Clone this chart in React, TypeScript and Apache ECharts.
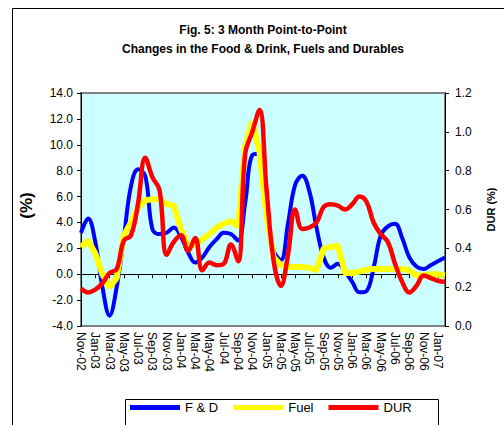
import React, { useEffect, useRef } from "react";
import * as echarts from "echarts";

const categories = [
  "Nov-02","Dec-02","Jan-03","Feb-03","Mar-03","Apr-03","May-03","Jun-03","Jul-03","Aug-03","Sep-03","Oct-03",
  "Nov-03","Dec-03","Jan-04","Feb-04","Mar-04","Apr-04","May-04","Jun-04","Jul-04","Aug-04","Sep-04","Oct-04",
  "Nov-04","Dec-04","Jan-05","Feb-05","Mar-05","Apr-05","May-05","Jun-05","Jul-05","Aug-05","Sep-05","Oct-05",
  "Nov-05","Dec-05","Jan-06","Feb-06","Mar-06","Apr-06","May-06","Jun-06","Jul-06","Aug-06","Sep-06","Oct-06",
  "Nov-06","Dec-06","Jan-07","Feb-07",
];

const foodDrink = [
  3.2, 4.3, 2.5, -1.0, -3.2, -1.0, 2.8, 6.8, 8.1, 7.6, 3.5, 3.1,
  3.2, 3.6, 2.9, 1.7, 0.9, 1.3, 2.1, 2.7, 3.2, 3.1, 2.6, 5.5,
  9.2, 9.3, 5.0, 1.8, 1.1, 3.9, 6.9, 7.6, 6.4, 3.6, 1.3, 0.5,
  0.8, 0.2, -0.6, -1.4, -1.3, 0.5, 3.0, 3.7, 3.9, 2.8, 1.3, 0.6,
  0.4, 0.7, 1.0, 1.3,
];

const fuel = [
  2.1, 2.6, 1.6, 0.0, -1.0, -0.3, 3.0, 4.0, 5.2, 5.7, 5.8, 5.8,
  5.4, 5.3, 3.5, 2.2, 2.3, 2.7, 3.1, 3.6, 3.9, 4.1, 3.7, 9.9,
  11.8, 9.5, 4.5, 1.3, 0.7, 0.6, 0.55, 0.55, 0.5, 0.3, 2.0, 2.1,
  2.2, 0.1, 0.1, 0.2, 0.35, 0.4, 0.4, 0.4, 0.4, 0.4, 0.3, -0.1,
  -0.1, 0.0, 0.0, -0.1,
];

const durables = [
  0.193, 0.173, 0.187, 0.22, 0.273, 0.293, 0.44, 0.467, 0.633, 0.867, 0.767, 0.70,
  0.367, 0.433, 0.467, 0.387, 0.453, 0.287, 0.327, 0.313, 0.32, 0.42, 0.333, 0.887,
  1.0, 1.113, 0.70, 0.333, 0.207, 0.367, 0.60, 0.50, 0.507, 0.533, 0.613, 0.627,
  0.62, 0.60, 0.627, 0.667, 0.64, 0.533, 0.473, 0.433, 0.32, 0.227, 0.173, 0.207,
  0.26, 0.247, 0.233, 0.227,
];

const seriesNames = ["F & D", "Fuel", "DUR"];
const titleLines = [
  "Fig. 5: 3 Month Point-to-Point",
  "Changes in the Food & Drink, Fuels and Durables",
];

const FONT = "'Liberation Sans', Arial, sans-serif";

export default function App() {
  const ref = useRef<HTMLDivElement>(null);

  useEffect(() => {
    if (!ref.current) return;
    const chart = echarts.init(ref.current, undefined, { renderer: "svg" });
    chart.setOption({
      animation: false,
      backgroundColor: "#FFFFFF",
      textStyle: { fontFamily: FONT },
      title: {
        text: titleLines.join("\n"),
        left: 258,
        top: 16,
        textAlign: "center",
        textStyle: {
          fontFamily: FONT,
          fontSize: 12,
          fontWeight: "bold",
          color: "#000",
          lineHeight: 18.5,
        },
      },
      graphic: [
        {
          type: "rect",
          shape: { x: 12.5, y: 8.5, width: 600, height: 600 },
          style: { fill: "none", stroke: "#000", lineWidth: 1 },
          z: -1,
        },
        {
          type: "rect",
          shape: { x: 125.5, y: 399.5, width: 313, height: 40 },
          style: { fill: "#fff", stroke: "#000", lineWidth: 1 },
          z: 0,
        },
      ],
      legend: {
        data: seriesNames,
        left: 130,
        top: 401,
        padding: 0,
        icon: "rect",
        itemWidth: 50,
        itemHeight: 5,
        itemGap: 15,
        z: 10,
        textStyle: { fontFamily: FONT, fontSize: 13, color: "#000" },
      },
      grid: {
        left: 81,
        top: 93,
        width: 368,
        height: 233,
        show: true,
        backgroundColor: "#CCFFFF",
        borderColor: "#808080",
        borderWidth: 2,
      },
      xAxis: [
        {
          type: "category",
          data: categories,
          boundaryGap: false,
          position: "bottom",
          axisLine: { show: true, onZero: true, lineStyle: { color: "#000", width: 1 } },
          axisTick: { show: true, interval: 1, length: 4, lineStyle: { color: "#000" } },
          axisLabel: { show: false },
          splitLine: { show: false },
        },
        {
          type: "category",
          data: categories,
          boundaryGap: false,
          position: "bottom",
          offset: 0,
          axisLine: { show: false, onZero: false },
          axisTick: { show: false },
          axisLabel: {
            show: true,
            interval: 1,
            rotate: -90,
            margin: 6,
            fontFamily: FONT,
            fontSize: 12,
            color: "#000",
          },
          splitLine: { show: false },
        },
      ],
      yAxis: [
        {
          type: "value",
          min: -4,
          max: 14,
          interval: 2,
          name: "(%)",
          nameLocation: "middle",
          nameRotate: 90,
          nameGap: 46,
          nameTextStyle: { fontFamily: FONT, fontSize: 17, fontWeight: "bold", color: "#000", padding: [0, 0, 0, 8] },
          axisLine: { show: true, lineStyle: { color: "#000", width: 1 } },
          axisTick: { show: true, length: 4, lineStyle: { color: "#000" } },
          axisLabel: {
            fontFamily: FONT,
            fontSize: 12,
            color: "#000",
            margin: 8,
            formatter: (v: number) => v.toFixed(1),
          },
          splitLine: { show: false },
        },
        {
          type: "value",
          min: 0,
          max: 1.2,
          interval: 0.2,
          position: "right",
          name: "DUR (%)",
          nameLocation: "middle",
          nameRotate: 90,
          nameGap: 40,
          nameTextStyle: { fontFamily: FONT, fontSize: 11, fontWeight: "bold", color: "#000" },
          axisLine: { show: true, lineStyle: { color: "#000", width: 1 } },
          axisTick: { show: true, length: 4, lineStyle: { color: "#000" } },
          axisLabel: {
            fontFamily: FONT,
            fontSize: 12,
            color: "#000",
            margin: 10,
            formatter: (v: number) => v.toFixed(1),
          },
          splitLine: { show: false },
        },
      ],
      series: [
        {
          name: seriesNames[0],
          type: "line",
          data: foodDrink,
          xAxisIndex: 0,
          yAxisIndex: 0,
          smooth: 0.4,
          showSymbol: false,
          symbol: "none",
          lineStyle: { color: "#0000FF", width: 4 },
          itemStyle: { color: "#0000FF" },
          z: 2,
        },
        {
          name: seriesNames[1],
          type: "line",
          data: fuel,
          xAxisIndex: 0,
          yAxisIndex: 0,
          showSymbol: false,
          symbol: "none",
          lineStyle: { color: "#FFFF00", width: 6 },
          itemStyle: { color: "#FFFF00" },
          z: 3,
        },
        {
          name: seriesNames[2],
          type: "line",
          data: durables,
          xAxisIndex: 0,
          yAxisIndex: 1,
          smooth: 0.4,
          showSymbol: false,
          symbol: "none",
          lineStyle: { color: "#FF0000", width: 4.5 },
          itemStyle: { color: "#FF0000" },
          z: 4,
        },
      ],
    });
    return () => chart.dispose();
  }, []);

  return (
    <div
      ref={ref}
      style={{ position: "absolute", left: 0, top: 0, width: 504, height: 425 }}
    />
  );
}
